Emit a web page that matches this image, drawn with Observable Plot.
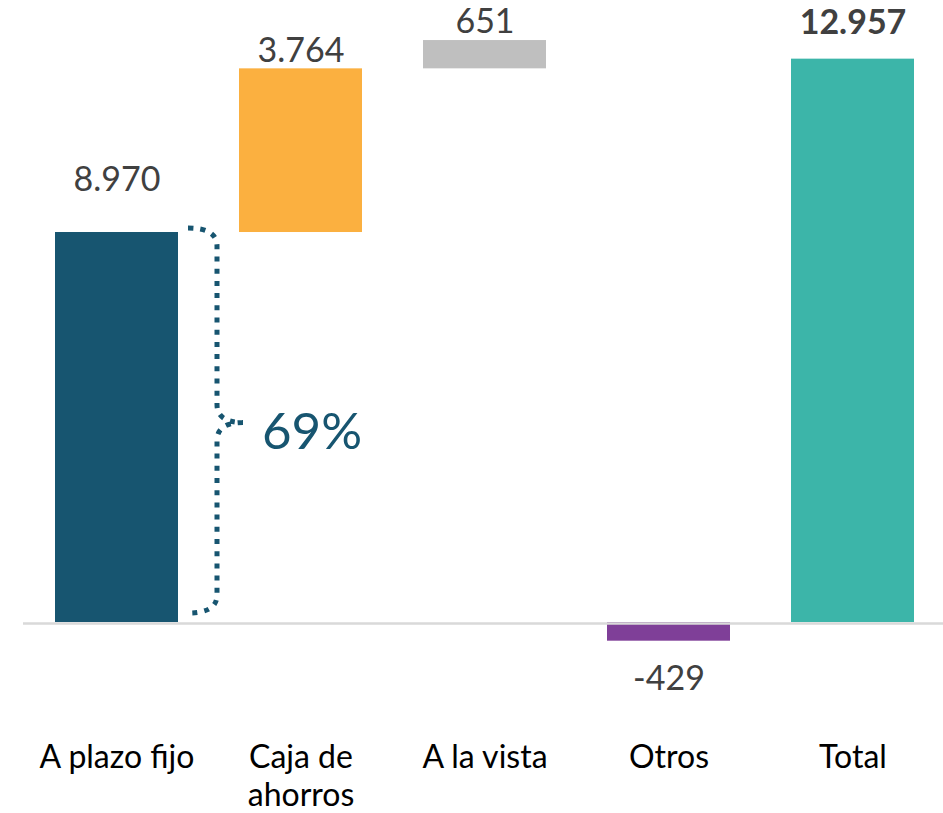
<!DOCTYPE html>
<html>
<head>
<meta charset="utf-8">
<script src="https://cdn.jsdelivr.net/npm/d3@7"></script>
<script src="https://cdn.jsdelivr.net/npm/@observablehq/plot@0.6"></script>
<style>
  html, body { margin: 0; padding: 0; background: #fff; }
  #chart svg { display: block; }
</style>
</head>
<body>
<div id="chart"></div>
<script>
const categories = ["A plazo fijo", "Caja de ahorros", "A la vista", "Otros", "Total"];
const axisLabels = ["A plazo fijo", "Caja de\nahorros", "A la vista", "Otros", "Total"];
const values = [8970, 3764, 651, -429, 12957];
const floating = [false, true, true, false, false];
const colors = ["#175570", "#fbb040", "#bfbfbf", "#7f3f98", "#3cb5a9"];
const shareLabel = "69%";

const fmt0 = d3.formatLocale({decimal: ",", thousands: ".", grouping: [3], currency: ["", ""], minus: "-"}).format(",d");
const fmt = v => fmt0(v);

let run = 0;
const rows = categories.map((c, i) => {
  const start = floating[i] ? run : 0;
  const end = start + values[i];
  if (i === 0 || floating[i]) run = end;
  return {cat: c, start, end, value: values[i], color: colors[i], i};
});

// label offsets (px) from the bar's end
const labelDy = [-52, -18, -18, 38, -36];
const totalIdx = 4;
const FONT = "Lato, sans-serif";

function brace(index, scales) {
  const x0 = scales.x(categories[0]) + scales.x.bandwidth();
  const yTop = scales.y(rows[0].end) - 4;
  const yBot = scales.y(0) - 9;
  const xs = x0 + 39;
  const ym = (yTop + yBot) / 2 + 2;
  const r = 18;
  const p = d3.path();
  p.moveTo(x0 + 10, yTop);
  p.quadraticCurveTo(xs, yTop, xs, yTop + r);
  p.lineTo(xs, ym - r);
  p.quadraticCurveTo(xs, ym, xs + 26, ym);
  p.moveTo(xs + 26, ym);
  p.quadraticCurveTo(xs, ym, xs, ym + r);
  p.lineTo(xs, yBot - r);
  p.quadraticCurveTo(xs, yBot, x0 + 10, yBot);
  const g = d3.create("svg:g");
  g.append("path").attr("d", p.toString()).attr("fill", "none")
    .attr("stroke", "#175570").attr("stroke-width", 5)
    .attr("stroke-dasharray", "5 7.2");
  g.append("text").attr("x", xs + 45).attr("y", ym + 8).attr("dy", "0.36em")
    .attr("text-anchor", "start")
    .attr("fill", "#175570").attr("font-size", 51).attr("font-family", FONT)
    .text(shareLabel);
  return g.node();
}

const chart = Plot.plot({
  width: 943,
  height: 813,
  marginLeft: 23,
  marginRight: 0,
  marginTop: 13.3,
  marginBottom: 104,
  style: {fontFamily: FONT, background: "#fff"},
  x: {domain: categories, range: [53, 916], paddingInner: 0.33, paddingOuter: 0, axis: null},
  y: {domain: [-2000, 14000], axis: null},
  marks: [
    Plot.barY(rows, {x: "cat", y1: "start", y2: "end", fill: "color"}),
    Plot.ruleY([0], {stroke: "#d9d9d9", strokeWidth: 2.5, dy: 1}),
    ...rows.map((d, i) => Plot.text([d], {
      x: "cat",
      y: "end",
      text: r => fmt(r.value),
      dy: labelDy[i],
      fontSize: 34,
      fill: "#404040",
      fontWeight: i === totalIdx ? "bold" : "normal",
      lineAnchor: "middle"
    })),
    Plot.text(categories.map((c, i) => ({cat: c, label: axisLabels[i]})), {
      x: "cat",
      y: -2000,
      text: "label",
      fontSize: 32,
      fill: "#000",
      lineAnchor: "top",
      lineHeight: 1.2,
      dy: 31
    }),
    brace
  ]
});
document.getElementById("chart").appendChild(chart);
</script>
</body>
</html>
